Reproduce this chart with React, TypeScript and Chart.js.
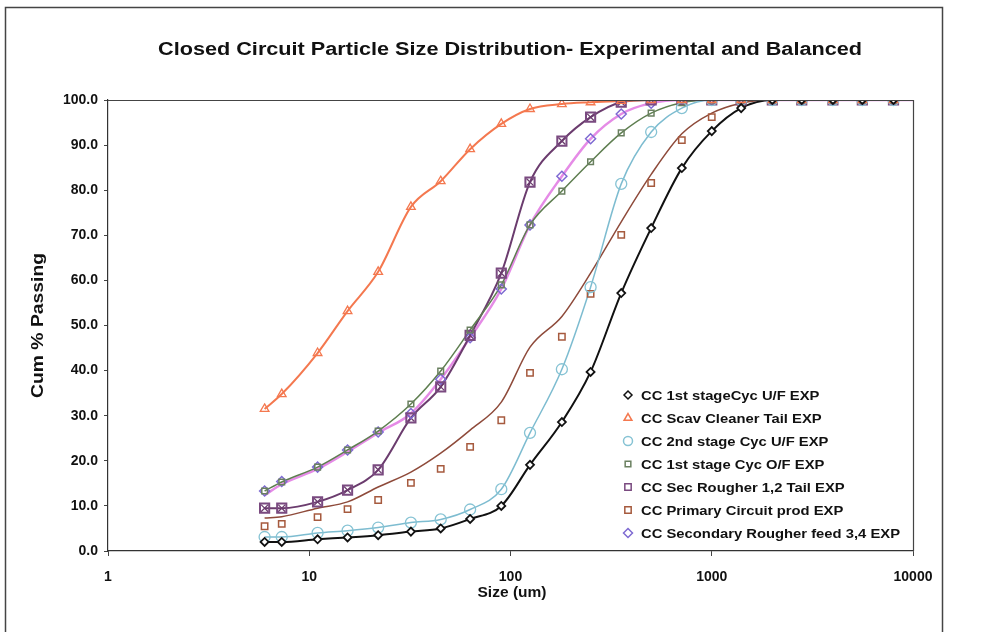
import React, { useEffect, useRef } from 'react';
import { Chart, registerables } from 'chart.js';
import { drawPoint } from 'chart.js/helpers';

Chart.register(...registerables);

const FONT = '"Liberation Sans", Arial, sans-serif';

const chartTitle = 'Closed Circuit Particle Size Distribution- Experimental and Balanced';
const xTitle = 'Size (um)';
const yTitle = 'Cum % Passing';
const xTicks = [1, 10, 100, 1000, 10000];

// particle sizes (um)
const sizes = [6, 7.3, 11, 15.5, 22, 32, 45, 63, 90, 125, 180, 250, 355, 500, 710, 1000, 1400, 2000, 2800, 4000, 5600, 8000];
const lineEnd = 10000;

const seriesNames = [
  'CC 1st stageCyc U/F EXP',
  'CC Scav Cleaner Tail EXP',
  'CC 2nd stage Cyc U/F EXP',
  'CC 1st stage Cyc O/F EXP',
  'CC Sec Rougher 1,2 Tail EXP',
  'CC Primary Circuit prod EXP',
  'CC Secondary Rougher feed 3,4 EXP',
];

// experimental cum % passing
const firstStageUF = [2.0, 2.0, 2.6, 3.0, 3.5, 4.3, 5.0, 7.1, 10.0, 19.1, 28.6, 39.7, 57.2, 71.6, 84.9, 93.1, 98.2, 100, 100, 100, 100, 100];
const scavCleanerTail = [31.5, 34.8, 43.9, 53.2, 61.9, 76.3, 82.0, 89.1, 94.7, 98.0, 99.1, 99.5, 99.8, 100, 100, 100, 100, 100, 100, 100, 100, 100];
const secondStageUF = [3.1, 3.1, 4.0, 4.5, 5.2, 6.3, 7.0, 9.2, 13.7, 26.2, 40.3, 58.5, 81.4, 92.9, 98.2, 100, 100, 100, 100, 100, 100, 100];
const firstStageOF = [13.3, 15.3, 18.6, 22.4, 26.6, 32.6, 39.9, 49.0, 59.0, 72.3, 79.8, 86.3, 92.7, 97.1, 99.4, 100, 100, 100, 100, 100, 100, 100];
const secRougherTail = [9.5, 9.5, 10.9, 13.5, 18.0, 29.5, 36.4, 47.8, 61.6, 81.8, 90.9, 96.2, 99.5, 100, 100, 100, 100, 100, 100, 100, 100, 100];
const primaryProdExp = [5.5, 6.0, 7.5, 9.3, 11.3, 15.1, 18.2, 23.1, 29.0, 39.5, 47.5, 57.0, 70.1, 81.6, 91.1, 96.2, 99.3, 100, 100, 100, 100, 100];
const secRougherFeed = [13.3, 15.4, 18.6, 22.4, 26.4, 30.5, 38.1, 47.3, 58.1, 72.3, 83.1, 91.4, 96.9, 99.3, 100, 100, 100, 100, 100, 100, 100, 100];

// balanced (model) curves
const primaryProdBal = [7.3, 7.6, 9.5, 10.9, 14.2, 17.5, 21.7, 26.8, 33.0, 45.2, 52.0, 61.6, 73.0, 83.5, 92.5, 97.1, 99.3, 100, 100, 100, 100, 100];
const secRougherFeedBal = [12.4, 14.8, 18.2, 22.0, 26.2, 30.5, 38.1, 47.3, 58.1, 72.3, 83.1, 91.4, 96.9, 99.3, 100, 100, 100, 100, 100, 100, 100, 100];

const expSeries = [firstStageUF, scavCleanerTail, secondStageUF, firstStageOF, secRougherTail, primaryProdExp, secRougherFeed];
const balSeries = [firstStageUF, scavCleanerTail, secondStageUF, firstStageOF, secRougherTail, primaryProdBal, secRougherFeedBal];

const styles = [
  { line: '#111111', lw: 2, marker: '#111111', ps: 'rectRot', r: 4, fill: '#ffffff', bw: 1.8 },
  { line: '#F4784F', lw: 2, marker: '#F4784F', ps: 'triangle', r: 5, fill: 'rgba(255,255,255,0)', bw: 1.3 },
  { line: '#7DBCD0', lw: 1.5, marker: '#86C3D4', ps: 'circle', r: 5.5, fill: 'rgba(255,255,255,0)', bw: 1.3 },
  { line: '#5E7E50', lw: 1.5, marker: '#6A8060', ps: 'rect', r: 4, fill: 'rgba(255,255,255,0)', bw: 1.5 },
  { line: '#6B3C6E', lw: 2, marker: '#7A4A80', ps: 'rect', r: 6.5, fill: 'rgba(255,255,255,0)', bw: 2 },
  { line: '#8E4A3A', lw: 1.5, marker: '#A65A3E', ps: 'rect', r: 4.5, fill: 'rgba(255,255,255,0)', bw: 1.5 },
  { line: '#E58BE6', lw: 2.5, marker: '#7E6AD2', ps: 'rectRot', r: 5, fill: 'rgba(255,255,255,0)', bw: 1.5 },
];

function stretchText(ctx: CanvasRenderingContext2D, text: string, x: number, y: number, sx: number) {
  ctx.save();
  ctx.translate(x, y);
  ctx.scale(sx, 1);
  ctx.fillText(text, 0, 0);
  ctx.restore();
}

const chromePlugin = {
  id: 'chrome',
  beforeDraw(chart: any) {
    const { ctx, width, height } = chart;
    ctx.save();
    ctx.fillStyle = '#ffffff';
    ctx.fillRect(0, 0, width, height);
    ctx.strokeStyle = '#444';
    ctx.lineWidth = 1.5;
    ctx.strokeRect(5.5, 7.5, 937, height + 20);
    ctx.restore();
  },
  afterDraw(chart: any) {
    const { ctx, chartArea } = chart;
    ctx.save();
    ctx.strokeStyle = '#444';
    ctx.lineWidth = 1.2;
    ctx.beginPath();
    ctx.moveTo(chartArea.left, chartArea.top + 0.5);
    ctx.lineTo(chartArea.right + 0.5, chartArea.top + 0.5);
    ctx.lineTo(chartArea.right + 0.5, chartArea.bottom);
    ctx.stroke();

    ctx.fillStyle = '#111';
    ctx.textAlign = 'center';
    ctx.textBaseline = 'middle';

    ctx.font = `bold 18px ${FONT}`;
    const tw = ctx.measureText(chartTitle).width;
    stretchText(ctx, chartTitle, 510, 50, 704 / tw);

    ctx.font = `bold 15px ${FONT}`;
    const xw = ctx.measureText(xTitle).width;
    stretchText(ctx, xTitle, 512, 593, 69 / xw);

    ctx.save();
    ctx.translate(38, (chartArea.top + chartArea.bottom) / 2);
    ctx.rotate(-Math.PI / 2);
    ctx.font = `bold 17px ${FONT}`;
    const yw = ctx.measureText(yTitle).width;
    stretchText(ctx, yTitle, 0, 0, 145 / yw);
    ctx.restore();

    // legend
    const lx = 628;
    const ly0 = 395;
    const dy = 23;
    ctx.font = `bold 13.5px ${FONT}`;
    ctx.textAlign = 'left';
    const lw = ctx.measureText(seriesNames[6]).width;
    const lsx = 259 / lw;
    seriesNames.forEach((name, i) => {
      const s = styles[i];
      const y = ly0 + i * dy;
      ctx.save();
      ctx.strokeStyle = s.marker;
      ctx.fillStyle = '#ffffff';
      ctx.lineWidth = 1.5;
      drawPoint(ctx, { pointStyle: s.ps, radius: Math.min(s.r, 4.5), borderWidth: 1.5, rotation: 0 } as any, lx, y);
      ctx.restore();
      ctx.fillStyle = '#111';
      stretchText(ctx, name, 641, y + 1, lsx);
    });
    ctx.restore();
  },
};

export default function App() {
  const ref = useRef<HTMLCanvasElement | null>(null);

  useEffect(() => {
    if (!ref.current) return;
    const lineSets = balSeries.map((vals, i) => ({
      label: seriesNames[i].replace('EXP', 'BAL'),
      data: [...sizes.map((x, k) => ({ x, y: vals[k] })), { x: lineEnd, y: 100 }],
      borderColor: styles[i].line,
      borderWidth: styles[i].lw,
      pointRadius: i === 4 ? sizes.map(() => 5).concat([0]) : 0,
      pointStyle: 'crossRot',
      pointBorderColor: styles[i].line,
      pointBorderWidth: 1.3,
      cubicInterpolationMode: 'monotone' as const,
      fill: false,
      order: 2,
    }));
    const markerSets = expSeries.map((vals, i) => ({
      label: seriesNames[i],
      data: sizes.map((x, k) => ({ x, y: vals[k] })),
      showLine: false,
      pointStyle: styles[i].ps,
      pointRadius: styles[i].r,
      pointBorderColor: styles[i].marker,
      pointBackgroundColor: styles[i].fill,
      pointBorderWidth: styles[i].bw,
      order: 1,
    }));

    const chart = new Chart(ref.current, {
      type: 'line',
      data: { datasets: [...lineSets, ...markerSets] as any },
      options: {
        responsive: false,
        animation: false,
        devicePixelRatio: 1,
        layout: { padding: { top: 100, right: 86, left: 0, bottom: 0 } },
        plugins: { legend: { display: false }, tooltip: { enabled: false }, title: { display: false } },
        scales: {
          x: {
            type: 'logarithmic',
            min: 1,
            max: 10000,
            afterBuildTicks: (s: any) => {
              s.ticks = xTicks.map((v) => ({ value: v }));
            },
            afterFit: (s: any) => {
              s.height = 81;
            },
            ticks: {
              callback: (v: any) => String(v),
              autoSkip: false,
              maxRotation: 0,
              padding: 13,
              color: '#111',
              font: { family: FONT, size: 14, weight: 'bold' },
            },
            grid: { drawOnChartArea: false, tickLength: 5, color: '#444' },
            border: { color: '#333', width: 1.2 },
          },
          y: {
            min: 0,
            max: 100,
            afterFit: (s: any) => {
              s.width = 108;
            },
            ticks: {
              stepSize: 10,
              callback: (v: any) => Number(v).toFixed(1),
              padding: 6,
              color: '#111',
              font: { family: FONT, size: 14, weight: 'bold' },
            },
            grid: { drawOnChartArea: false, tickLength: 4, color: '#444' },
            border: { color: '#333', width: 1.2 },
          },
        },
      } as any,
      plugins: [chromePlugin],
    });
    return () => chart.destroy();
  }, []);

  return (
    <div style={{ position: 'fixed', left: 0, top: 0, width: 999, height: 632 }}>
      <canvas ref={ref} width={999} height={632} style={{ display: 'block' }} />
    </div>
  );
}
